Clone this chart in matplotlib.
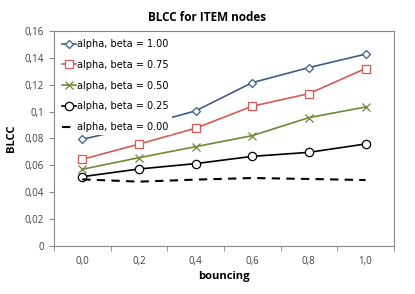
import matplotlib.pyplot as plt
from matplotlib.ticker import FixedLocator, FuncFormatter
import numpy as np

# datos
bouncing = ["0,0", "0,2", "0,4", "0,6", "0,8", "1,0"]
beta_100 = [0.0794, 0.0890, 0.1005, 0.1215, 0.1327, 0.1427]
beta_075 = [0.0645, 0.0758, 0.0876, 0.1040, 0.1133, 0.1320]
beta_050 = [0.0571, 0.0657, 0.0739, 0.0821, 0.0955, 0.1034]
beta_025 = [0.0516, 0.0573, 0.0613, 0.0667, 0.0697, 0.0759]
beta_000 = [0.0496, 0.0479, 0.0494, 0.0506, 0.0499, 0.0491]
y_ticks = [0, 0.02, 0.04, 0.06, 0.08, 0.1, 0.12, 0.14, 0.16]

plt.rcParams['font.family'] = ['Open Sans', 'DejaVu Sans']

fig = plt.figure(figsize=(4.15, 2.94), dpi=100)
ax = fig.add_axes([0.130, 0.163, 0.819, 0.732])

x = np.arange(len(bouncing))
ax.plot(x, beta_100, color='#3B5E8C', lw=1.2, marker='D', ms=4.5, mfc='white', mec='#3B5E8C',
        mew=0.9, label='alpha, beta = 1.00')
ax.plot(x, beta_075, color='#D55A57', lw=1.2, marker='s', ms=6, mfc='white', mec='#D55A57',
        mew=0.9, label='alpha, beta = 0.75')
ax.plot(x, beta_050, color='#6A8A36', lw=1.2, marker='x', ms=5.5, mec='#6A8A36',
        mew=0.9, label='alpha, beta = 0.50')
ax.plot(x, beta_025, color='black', lw=1.2, marker='o', ms=6, mfc='white', mec='black',
        mew=0.9, label='alpha, beta = 0.25')
ax.plot(x, beta_000, color='black', lw=1.5, ls=(0, (4, 3)), label='alpha, beta = 0.00')

ax.set_xlim(-0.5, len(bouncing) - 0.5)
ax.set_ylim(0, 0.16)
ax.set_xticks(x)
ax.set_xticklabels(bouncing)
ax.xaxis.set_minor_locator(FixedLocator(np.arange(-0.5, len(bouncing), 1.0)))
ax.tick_params(axis='x', which='major', length=0, pad=7, labelsize=7, colors='#404040')
ax.tick_params(axis='x', which='minor', length=3.5, color='#888888')
ax.set_yticks(y_ticks)
ax.yaxis.set_major_formatter(FuncFormatter(lambda v, p: ('%g' % round(v, 2)).replace('.', ',')))
ax.tick_params(axis='y', length=3.5, color='#888888', labelsize=7, labelcolor='#404040')

for s in ax.spines.values():
    s.set_color('#888888')
    s.set_linewidth(0.8)

fig.text(0.5, 0.94, 'BLCC for ITEM nodes', ha='center', va='center', fontsize=8.5, fontweight='bold')
ax.set_xlabel('bouncing', fontsize=8, fontweight='bold', labelpad=3)
ax.set_ylabel('BLCC', fontsize=8, fontweight='bold', labelpad=6)

leg = ax.legend(loc='upper left', frameon=True, framealpha=1, edgecolor='white',
                prop={'family': 'DejaVu Sans', 'size': 7}, labelspacing=1.1,
                handlelength=1.4, handletextpad=0.1, borderpad=0.35,
                bbox_to_anchor=(0.0, 1.0))
leg.get_frame().set_linewidth(0)

fig.savefig('out.png', dpi=100)
